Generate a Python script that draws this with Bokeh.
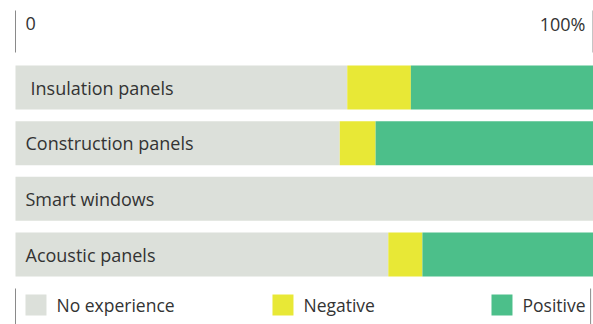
from bokeh.plotting import figure
from bokeh.models import ColumnDataSource, Range1d
from bokeh.core.properties import value
from bokeh.embed import file_html
from bokeh.resources import INLINE

# ---- data ----
categories = ["Insulation panels", "Construction panels", "Smart windows", "Acoustic panels"]
no_experience = [57.4, 56.1, 100.0, 64.5]
negative = [11.0, 6.2, 0.0, 5.9]
positive = [31.6, 37.7, 0.0, 29.6]
series = ["No experience", "Negative", "Positive"]
colors = ["#dce0da", "#e8e836", "#4cbf8a"]
tick_labels = ["0", "100%"]

FONT = "Open Sans"
FS = "18px"
TXT = "#333333"

W, H = 593, 324
PITCH = 55.67        # px per category row
ROW0 = 87            # px centre of first row
LEFT = 15            # px of the 0 position
SPAN = 578           # px for 100 %

def yi(px):
    return (px - ROW0) / PITCH

x0 = -LEFT * 100 / SPAN
x1 = (W - LEFT) * 100 / SPAN

p = figure(width=W, height=H, output_backend="svg", toolbar_location=None,
           x_range=Range1d(x0, x1), y_range=Range1d(yi(H), yi(0)),
           min_border=0, min_border_left=0, min_border_right=0,
           min_border_top=0, min_border_bottom=0)
p.axis.visible = False
p.grid.visible = False
p.outline_line_color = None
p.background_fill_color = "white"

idx = list(range(len(categories)))
src = ColumnDataSource(dict(y=idx, cat=categories,
                            **{"No experience": no_experience,
                               "Negative": negative,
                               "Positive": positive}))
p.hbar_stack(series, y="y", height=44 / PITCH, color=colors, source=src, line_color=None)

# category labels inside bars
pad = [15, 10, 10, 10]
lab = ColumnDataSource(dict(x=[0] * len(categories), y=idx, t=categories, off=pad))
p.text(x="x", y="y", text="t", x_offset="off", source=lab,
       text_font=value(FONT), text_font_size=FS, text_color=TXT,
       text_baseline="middle", text_align="left")

# top scale: vertical markers at 0 and 100%
xr = 100 - 0.5 * 100 / SPAN
p.segment(x0=[0, xr], y0=[yi(10)] * 2, x1=[0, xr], y1=[yi(52)] * 2,
          line_color="#8a8a8a", line_width=1)
p.text(x=[0], y=[yi(23)], text=[tick_labels[0]], x_offset=10,
       text_font=value(FONT), text_font_size=FS, text_color=TXT,
       text_baseline="middle", text_align="left")
p.text(x=[100], y=[yi(23)], text=[tick_labels[1]], x_offset=-8,
       text_font=value(FONT), text_font_size=FS, text_color=TXT,
       text_baseline="middle", text_align="right")

# legend at the bottom
p.segment(x0=[0, 99.5], y0=[yi(288)] * 2, x1=[0, 99.5], y1=[yi(324)] * 2,
          line_color="#8a8a8a", line_width=1)
leg_x = [1.73, 44.46, 82.35]
sq_w = 21 * 100 / SPAN
p.rect(x=[x + sq_w / 2 for x in leg_x], y=[yi(304.5)] * 3, width=21, height=21,
       width_units="screen", height_units="screen", fill_color=colors, line_color=None)
p.text(x=[x + sq_w for x in leg_x], y=[yi(304.5)] * 3, text=series, x_offset=10,
       text_font=value(FONT), text_font_size="17.5px", text_color=TXT,
       text_baseline="middle", text_align="left")

open("out.html", "w").write(file_html(p, INLINE))
